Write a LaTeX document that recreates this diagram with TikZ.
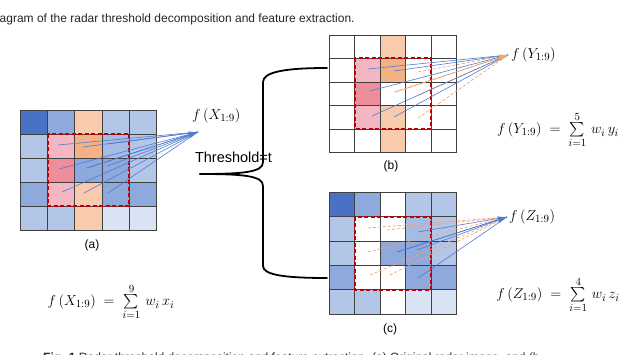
\documentclass[tikz,border=0pt]{standalone}
\usepackage{amsmath}
\usepackage{fontspec}
\setmainfont{Liberation Sans}
\usepackage{xcolor}
\usepackage{tikz}
\usetikzlibrary{arrows.meta,positioning,calc}

\definecolor{bdark}{HTML}{4A72C4}
\definecolor{bmid}{HTML}{8EA9DB}
\definecolor{bsoft}{HTML}{A6BBE4}
\definecolor{blight}{HTML}{B4C6E7}
\definecolor{bpale}{HTML}{DAE3F3}
\definecolor{peach}{HTML}{F8CBAD}
\definecolor{orng}{HTML}{F4B183}
\definecolor{cpink}{HTML}{F4B6C2}
\definecolor{rose}{HTML}{EE8E9B}
\definecolor{gridgray}{HTML}{404040}
\definecolor{boxred}{HTML}{C00000}
\definecolor{fanblue}{HTML}{4F7BD0}
\definecolor{fanorange}{HTML}{F2A46E}

\tikzset{
  cellline/.style={draw=gridgray, line width=0.9pt},
  redbox/.style={draw=boxred, line width=2pt, dash pattern=on 4pt off 2.5pt},
  fanb/.style={draw=fanblue, line width=0.6pt},
  fano/.style={draw=fanorange, line width=0.7pt, dash pattern=on 3pt off 2pt},
  sublbl/.style={font=\fontsize{12}{14}\selectfont},
  fnlbl/.style={font=\fontsize{15.5}{17}\selectfont, inner sep=0pt},
  capline/.style={font=\fontsize{12}{14}\selectfont, inner sep=0pt, anchor=base west, text=black!85},
  bracepath/.style={line width=1.8pt, line cap=round},
}

\begin{document}
\begin{tikzpicture}[x=1pt, y=-1pt]
\useasboundingbox (0,0) rectangle (640,355);

% caption lines cut by the page
\node[capline] (captop) at (-0.5,23) {agram of the radar threshold decomposition and feature extraction.};
\node[capline] (capbot) at (43,361) {\textbf{Fig. 1} Radar threshold decomposition and feature extraction. (a) Original radar image, and (b};

% original image (a)
\def\ax{20.7} \def\ay{110} \def\aw{27.1} \def\ah{24.1}
\foreach [count=\k from 0] \clr in {bdark,bmid,peach,blight,blight, blight,cpink,orng,bsoft,blight, blight,rose,bmid,bmid,blight, bmid,cpink,peach,bmid,bmid, blight,blight,peach,bpale,bpale}{
  \pgfmathtruncatemacro{\rw}{\k/5}
  \pgfmathtruncatemacro{\cl}{\k-5*\rw}
  \draw[cellline, fill=\clr] (\ax+\cl*\aw, \ay+\rw*\ah) rectangle ++(\aw, \ah);
}
\draw[redbox] (\ax+\aw, \ay+\ah) rectangle ++(3*\aw, 3*\ah);
\coordinate (tipA) at (198,132);
\foreach [count=\i] \px/\py in {58/145, 83/147, 108/144, 59/169, 87/168, 108/166, 62/192, 84/193, 108/193}{
  \coordinate (a\i) at (\px,\py);
  \draw[fanb] (a\i) -- (tipA);
}
\draw[fanb, -{Latex[length=9pt,width=7pt]}] (a5) -- (tipA);
\node[fnlbl, anchor=west] (fX) at (192,116) {$f\,(X_{1:9})$};
\node[sublbl] (capA) at (92,245) {(a)};

% threshold brace
\draw[bracepath] (200,174) .. controls (245,174) and (263,172) .. (263,162) -- (263,82) .. controls (263,72) and (285,68) .. (327,68);
\draw[bracepath] (200,174) .. controls (245,174) and (263,176) .. (263,186) -- (263,266) .. controls (263,275) and (285,278) .. (327,278);
\node[font=\fontsize{14.5}{16}\selectfont, inner sep=0pt] (thr) at (233.5,157) {Threshold=t};

% part above threshold (b)
\def\bx{329.3} \def\by{35} \def\bw{25.5} \def\bh{23.5}
\foreach [count=\k from 0] \clr in {white,white,peach,white,white, white,cpink,orng,white,white, white,rose,white,white,white, white,cpink,peach,white,white, white,white,peach,white,white}{
  \pgfmathtruncatemacro{\rw}{\k/5}
  \pgfmathtruncatemacro{\cl}{\k-5*\rw}
  \draw[cellline, fill=\clr] (\bx+\cl*\bw, \by+\rw*\bh) rectangle ++(\bw, \bh);
}
\draw[redbox] (\bx+\bw, \by+\bh) rectangle ++(3*\bw, 3*\bh);
\coordinate (tipB) at (508,55);
\foreach [count=\i] \px/\py in {395/92, 418/72, 418/95, 418/118}{
  \coordinate (bo\i) at (\px,\py);
  \draw[fano] (bo\i) -- (tipB);
}
\foreach [count=\i] \px/\py in {368/69, 394/71, 370/91, 372/116, 394/117}{
  \coordinate (bb\i) at (\px,\py);
  \draw[fanb] (bb\i) -- (tipB);
}
\draw[fano, solid, -{Latex[length=9pt,width=7pt]}] (bo1) -- (tipB);
\node[fnlbl, anchor=west] (fY) at (511,55) {$f\,(Y_{1:9})$};
\node[sublbl] (capB) at (391,166) {(b)};
\node[fnlbl] (sumY) at (558,130) {$f\,(Y_{1:9}) \;=\; \sum\limits_{i=1}^{5} \, w_i\, y_i$};

% part below threshold (c)
\def\cx{329.3} \def\cy{192.3} \def\cw{25.5} \def\ch{24.4}
\foreach [count=\k from 0] \clr in {bdark,bmid,white,blight,blight, blight,white,white,bsoft,blight, blight,white,bmid,bmid,blight, bmid,white,white,bmid,bmid, blight,blight,white,bpale,bpale}{
  \pgfmathtruncatemacro{\rw}{\k/5}
  \pgfmathtruncatemacro{\cl}{\k-5*\rw}
  \draw[cellline, fill=\clr] (\cx+\cl*\cw, \cy+\rw*\ch) rectangle ++(\cw, \ch);
}
\draw[redbox] (\cx+\cw, \cy+\ch) rectangle ++(3*\cw, 3*\ch);
\coordinate (tipC) at (507,217);
\foreach [count=\i] \px/\py in {368/228, 387/230, 368/252, 370/275, 390/275}{
  \coordinate (co\i) at (\px,\py);
  \draw[fano] (co\i) -- (tipC);
}
\foreach [count=\i] \px/\py in {418/232, 397/252, 417/250, 418/278}{
  \coordinate (cb\i) at (\px,\py);
  \draw[fanb] (cb\i) -- (tipC);
}
\draw[fanb, -{Latex[length=9pt,width=7pt]}] (cb2) -- (tipC);
\node[fnlbl, anchor=west] (fZ) at (509,217) {$f\,(Z_{1:9})$};
\node[sublbl] (capC) at (390,329) {(c)};
\node[fnlbl] (sumZ) at (558,295) {$f\,(Z_{1:9}) \;=\; \sum\limits_{i=1}^{4} \, w_i\, z_i$};

\node[fnlbl] (sumX) at (111,302) {$f\,(X_{1:9}) \;=\; \sum\limits_{i=1}^{9} \, w_i\, x_i$};
\end{tikzpicture}
\end{document}
